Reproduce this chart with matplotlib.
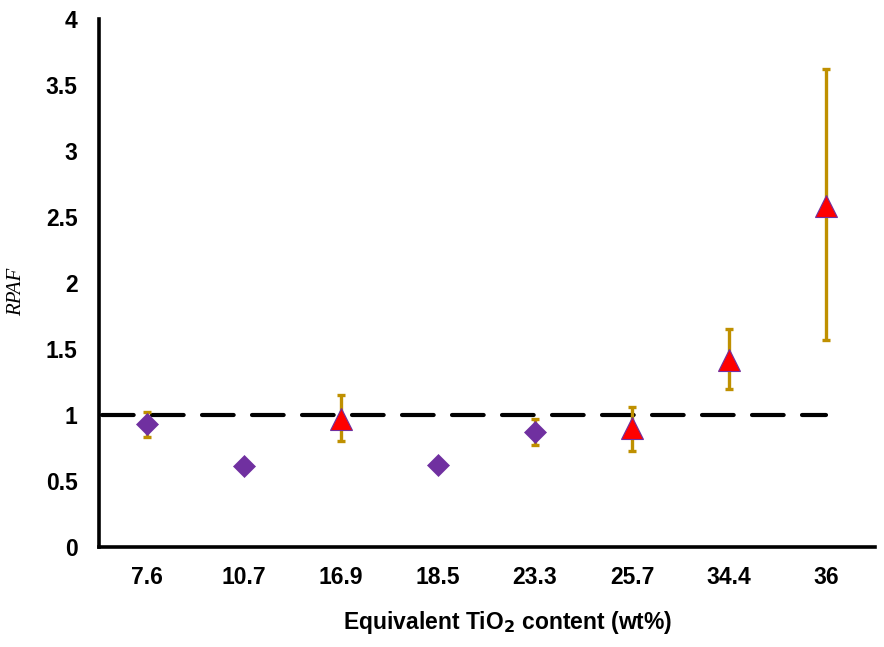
import matplotlib
matplotlib.use("Agg")
import matplotlib.pyplot as plt
import numpy as np

categories = ["7.6", "10.7", "16.9", "18.5", "23.3", "25.7", "34.4", "36"]
# diamonds (purple)
diamond_idx = [0, 1, 3, 4]
diamond_vals = [0.93, 0.61, 0.62, 0.87]
diamond_lo = [0.83, None, None, 0.77]
diamond_hi = [1.02, None, None, 0.97]
# triangles (red)
tri_idx = [2, 5, 6, 7]
tri_vals = [0.97, 0.90, 1.42, 2.58]
tri_lo = [0.80, 0.73, 1.20, 1.57]
tri_hi = [1.15, 1.06, 1.65, 3.62]
reference_value = 1.0
yticks = [0, 0.5, 1, 1.5, 2, 2.5, 3, 3.5, 4]
ytick_labels = ["0", "0.5", "1", "1.5", "2", "2.5", "3", "3.5", "4"]

W, H = 884, 647
fig = plt.figure(figsize=(W / 100, H / 100), dpi=100)
ax = fig.add_axes([98.5 / W, 1 - 547 / H, (874.5 - 98.5) / W, (547 - 19) / H])

purple = "#7030A0"
gold = "#BF9000"

x = np.arange(len(categories))

# reference dashed line
ax.plot([-0.46, len(categories) - 1], [reference_value, reference_value],
        color="black", lw=3, dashes=(7.6, 4.4), dash_capstyle="round", zorder=2)

# error bars
for idx, v, lo, hi in zip(diamond_idx + tri_idx, diamond_vals + tri_vals,
                          diamond_lo + tri_lo, diamond_hi + tri_hi):
    if lo is None:
        continue
    ax.errorbar([x[idx]], [v], yerr=[[v - lo], [hi - v]], fmt="none",
                ecolor=gold, elinewidth=2.4, capsize=3, capthick=2.4, zorder=3)

ax.plot(x[diamond_idx], diamond_vals, linestyle="none", marker="D", ms=11.5,
        mfc=purple, mec=purple, mew=0.5, zorder=4)
ax.plot(x[tri_idx], tri_vals, linestyle="none", marker="^", ms=16.5,
        mfc="#FF0000", mec=purple, mew=0.8, zorder=4)

ax.set_xlim(-0.5, len(categories) - 0.5)
ax.set_ylim(0, 4)
ax.set_xticks(x)
ax.set_xticklabels(categories)
ax.set_yticks(yticks)
ax.set_yticklabels(ytick_labels)
for lab in ax.get_xticklabels() + ax.get_yticklabels():
    lab.set_fontfamily("Liberation Sans")
    lab.set_fontweight("bold")
    lab.set_fontsize(16.5)
ax.tick_params(axis="both", length=0)
ax.tick_params(axis="x", pad=14)
ax.tick_params(axis="y", pad=15)

for s in ["top", "right"]:
    ax.spines[s].set_visible(False)
for s in ["left", "bottom"]:
    ax.spines[s].set_linewidth(2.6)
    ax.spines[s].set_color("black")

fig.text(508 / W, 1 - 622 / H, "Equivalent TiO$_\\mathbf{2}$ content (wt%)",
         ha="center", va="center", fontsize=16.5, fontweight="bold",
         family="Liberation Sans")
fig.text(17 / W, 1 - 292 / H, "RPAF", rotation=90, ha="center", va="center",
         fontsize=15, style="italic", family="Liberation Serif")

fig.savefig("out.png", dpi=100)
